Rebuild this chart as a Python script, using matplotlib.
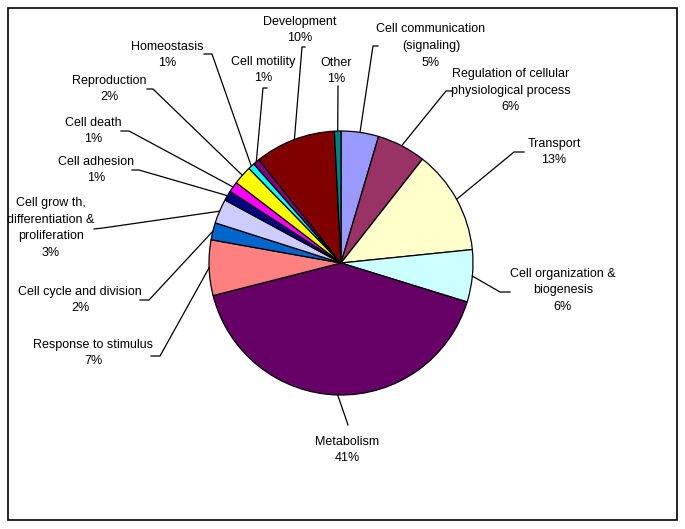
import numpy as np
import matplotlib.pyplot as plt
from matplotlib.patches import Rectangle

plt.rcParams['font.family'] = ['Liberation Sans', 'DejaVu Sans']

# categorias, na ordem do gráfico (começa às 12h, sentido horário)
categories = ["Cell communication\n(signaling)", "Regulation of cellular\nphysiological process",
              "Transport", "Cell organization &\nbiogenesis", "Metabolism",
              "Response to stimulus", "Cell cycle and division",
              "Cell grow th,\ndifferentiation &\nproliferation", "Cell adhesion",
              "Cell death", "Reproduction", "Homeostasis", "Cell motility",
              "Development", "Other"]
values = [4.6, 6.0, 12.8, 6.4, 41.3, 6.8, 2.1, 3.0, 1.2, 1.3, 2.3, 0.8, 0.8, 9.9, 0.8]
pct_labels = ["5%", "6%", "13%", "6%", "41%", "7%", "2%", "3%", "1%", "1%",
              "2%", "1%", "1%", "10%", "1%"]
colors = ["#9999FF", "#993366", "#FFFFCC", "#CCFFFF", "#660066", "#FF8080",
          "#0066CC", "#CCCCFF", "#000080", "#FF00FF", "#FFFF00", "#00FFFF",
          "#800080", "#800000", "#008080"]

# posição dos rótulos (pixels) e pontos da linha guia
CX, CY, R = 341, 263, 132
label_pos = [(431, 46), (511, 91), (554, 152), (563, 290), (347, 450),
             (93, 353), (80, 300), (51, 228), (96, 170), (93, 131),
             (109, 89), (167, 55), (263, 70), (300, 30), (336, 71)]
leaders = [[(378, 46), (373, 46)], [(453, 91), (446, 91)], [(524, 152), (514, 152)],
           [(510, 292), (500, 292)], [(348, 425), (347, 422)], [(151, 356), (160, 356)],
           [(140, 300), (149, 300)], [(94, 229), (103, 228)], [(132, 170), (139, 170)],
           [(121, 131), (129, 131)], [(147, 89), (153, 89)], [(204, 54), (212, 54)],
           [(267, 88), (263, 88)], [(305, 47), (302, 47)], [(338, 86)]]


def px(x, y):
    return (x - CX) / R, (CY - y) / R


fig = plt.figure(figsize=(6.85, 5.29), dpi=100)
ax = fig.add_axes([0, 0, 1, 1])

wedges, _ = ax.pie(values, colors=colors, startangle=90, counterclock=False,
                   radius=1.0, center=(0, 0), frame=True,
                   wedgeprops=dict(edgecolor='black', linewidth=0.9))
ax.set_xlim(px(0, 0)[0], px(685, 0)[0])
ax.set_ylim(px(0, 529)[1], px(0, 0)[1])
ax.set_aspect('equal')
ax.axis('off')

for w, cat, pct, pos, lead in zip(wedges, categories, pct_labels, label_pos, leaders):
    mid = np.deg2rad((w.theta1 + w.theta2) / 2)
    pts = [px(*p) for p in lead] + [(np.cos(mid), np.sin(mid))]
    ax.plot([p[0] for p in pts], [p[1] for p in pts], color='black', lw=0.9)
    tx, ty = px(*pos)
    ax.text(tx, ty, cat + "\n" + pct, ha='center', va='center',
            multialignment='center', fontsize=9, linespacing=1.5)

fig.add_artist(Rectangle((8 / 685, 1 - 520 / 529), 669 / 685, 512 / 529,
                         transform=fig.transFigure, fill=False,
                         edgecolor='black', linewidth=1.2))

fig.savefig("out.png", dpi=100, facecolor='white')
